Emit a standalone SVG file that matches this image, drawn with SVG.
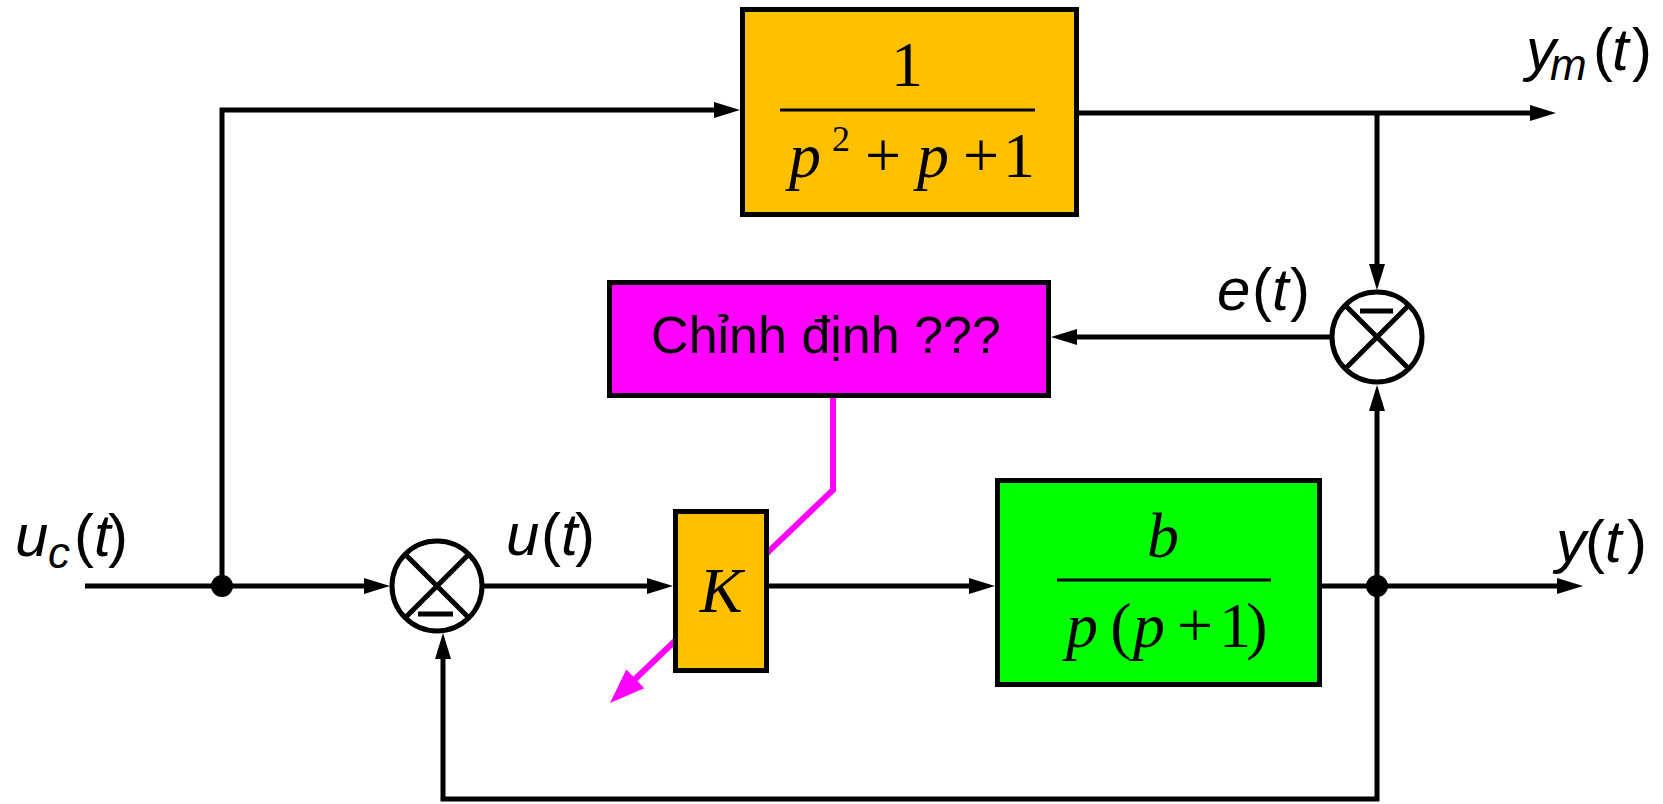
<svg xmlns="http://www.w3.org/2000/svg" width="1663" height="804" viewBox="0 0 1663 804">
<style>
.ln{fill:none;stroke:#000;stroke-width:5;stroke-linejoin:miter}
.box{stroke:#000;stroke-width:5}
.math{font-family:"Liberation Serif","Times New Roman",serif;font-size:64px;fill:#000}
.it{font-style:italic}
.lbl{font-family:"Liberation Sans",Arial,sans-serif;font-size:60px;fill:#000}
.sub{font-size:44px}
.txt{font-family:"Liberation Sans",Arial,sans-serif;font-size:52px;fill:#000}
</style>
<defs>
<marker id="ar" markerUnits="userSpaceOnUse" markerWidth="26" markerHeight="16" refX="16" refY="8" orient="auto" overflow="visible">
<path d="M0,0 L26,8 L0,16 Z" fill="#000"/>
</marker>
</defs>
<rect width="1663" height="804" fill="#fff"/>
<g id="connectors">
<path class="ln" d="M222,586 V110 H730" marker-end="url(#ar)"/>
<path class="ln" d="M85,586 H380" marker-end="url(#ar)"/>
<path class="ln" d="M482,586 H663" marker-end="url(#ar)"/>
<path class="ln" d="M769,586 H985" marker-end="url(#ar)"/>
<path class="ln" d="M1320,586 H1573" marker-end="url(#ar)"/>
<path class="ln" d="M1377,586 V799 H443 V643" marker-end="url(#ar)"/>
<path class="ln" d="M1377,586 V395" marker-end="url(#ar)"/>
<path class="ln" d="M1079,113 H1546" marker-end="url(#ar)"/>
<path class="ln" d="M1377,113 V280" marker-end="url(#ar)"/>
<path class="ln" d="M1332,337 H1061" marker-end="url(#ar)"/>
<circle cx="222" cy="586" r="11" fill="#000"/>
<circle cx="1377" cy="586" r="11" fill="#000"/>
<path d="M833,397 V490 L632,682" fill="none" stroke="#FF00FF" stroke-width="6"/>
<path d="M610,703 L626.3,669.4 L635.3,678.8 L644.3,688.2 Z" fill="#FF00FF"/>
</g>
<g id="model">
<rect class="box" x="742.5" y="9.5" width="334" height="205" fill="#FFC000"/>
<line x1="780" y1="110" x2="1035" y2="110" stroke="#000" stroke-width="3"/>
<text class="math" x="907" y="86" text-anchor="middle">1</text>
<text class="math" y="177" text-anchor="middle"><tspan class="it" x="805">p</tspan><tspan x="841" y="151" font-size="36">2</tspan><tspan x="883" y="177">+</tspan><tspan class="it" x="933">p</tspan><tspan x="981">+</tspan><tspan x="1019">1</tspan></text>
</g>
<g id="tuning">
<rect class="box" x="609.5" y="282.5" width="439" height="113" fill="#FF00FF"/>
<text class="txt" x="826" y="353" text-anchor="middle">Chỉnh định ???</text>
</g>
<g id="gain">
<rect class="box" x="675.5" y="511.5" width="91" height="159" fill="#FFC000"/>
<text class="math it" x="721" y="612" text-anchor="middle" font-size="60">K</text>
</g>
<g id="plant">
<rect class="box" x="997.5" y="480.5" width="322" height="204" fill="#00FF00"/>
<line x1="1057" y1="580" x2="1271" y2="580" stroke="#000" stroke-width="3"/>
<text class="math it" x="1163" y="557" text-anchor="middle">b</text>
<text class="math" y="647" text-anchor="middle"><tspan class="it" x="1082">p</tspan><tspan x="1121">(</tspan><tspan class="it" x="1149">p</tspan><tspan x="1195">+</tspan><tspan x="1235">1</tspan><tspan x="1257">)</tspan></text>
</g>
<g id="sum1">
<circle cx="437" cy="586" r="45" fill="#fff" stroke="#000" stroke-width="5"/>
<path class="ln" d="M405.2,554.2 L468.8,617.8 M468.8,554.2 L405.2,617.8"/>
<line x1="418" y1="614" x2="453" y2="614" stroke="#000" stroke-width="5"/>
</g>
<g id="sum2">
<circle cx="1377" cy="337" r="45" fill="#fff" stroke="#000" stroke-width="5"/>
<path class="ln" d="M1345.2,305.2 L1408.8,368.8 M1408.8,305.2 L1345.2,368.8"/>
<line x1="1360" y1="311" x2="1393" y2="311" stroke="#000" stroke-width="5"/>
</g>
<g id="labels">
<text class="lbl" y="556"><tspan class="it" x="15">u</tspan><tspan class="it sub" x="48" y="568">c</tspan><tspan x="74" y="556">(</tspan><tspan class="it" x="94">t</tspan><tspan x="108">)</tspan></text>
<text class="lbl" y="555"><tspan class="it" x="506">u</tspan><tspan x="541">(</tspan><tspan class="it" x="561">t</tspan><tspan x="575">)</tspan></text>
<text class="lbl" y="310"><tspan class="it" x="1217">e</tspan><tspan x="1252">(</tspan><tspan class="it" x="1272">t</tspan><tspan x="1290">)</tspan></text>
<text class="lbl" y="70"><tspan class="it" x="1526">y</tspan><tspan class="it sub" x="1550" y="80">m</tspan><tspan x="1593" y="70">(</tspan><tspan class="it" x="1612">t</tspan><tspan x="1632">)</tspan></text>
<text class="lbl" y="562"><tspan class="it" x="1556">y</tspan><tspan x="1585">(</tspan><tspan class="it" x="1605">t</tspan><tspan x="1627">)</tspan></text>
</g>
</svg>
